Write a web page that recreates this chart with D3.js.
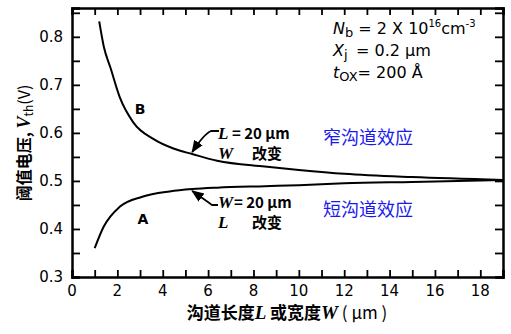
<!DOCTYPE html>
<html>
<head>
<meta charset="utf-8">
<script src="https://cdn.jsdelivr.net/npm/d3@7"></script>
<style>
  body { margin: 0; background: #fff; }
  svg { display: block; }
  text { font-family: "DejaVu Sans", sans-serif; }
  .cjk { font-family: "Noto Sans CJK SC", sans-serif; }
</style>
</head>
<body>
<svg id="chart" width="511" height="334"></svg>
<script>
// channel length / width in um, threshold voltage in V
const widthX = [1.2, 1.4, 1.7, 2.1, 2.7, 3.6, 4.5, 5.3, 6.4, 8.5, 10, 12, 15, 19];
const widthVth = [0.832, 0.78, 0.735, 0.675, 0.622, 0.587, 0.567, 0.556, 0.542, 0.53, 0.523, 0.515, 0.508, 0.502];
const lengthX = [1.0, 1.4, 2.1, 3.1, 4.3, 5.3, 6.4, 8.5, 10, 12, 15, 19];
const lengthVth = [0.36, 0.405, 0.446, 0.467, 0.478, 0.483, 0.486, 0.489, 0.491, 0.495, 0.498, 0.502];
const xTickLabels = [0, 2, 4, 6, 8, 10, 12, 14, 16, 18];
const yTickLabels = [0.3, 0.4, 0.5, 0.6, 0.7, 0.8];

const svg = d3.select("#chart");
const x = d3.scaleLinear().domain([0, 19]).range([72, 503]);
const y = d3.scaleLinear().domain([0.3, 0.86]).range([277, 8]);

// frame drawn as four axes with inward ticks, labels drawn separately
const xMinor = d3.range(0, 20);
const yMinor = d3.range(0.3, 0.86, 0.05);
svg.append("g").attr("transform", "translate(0,277)")
  .call(d3.axisBottom(x).tickValues(xMinor).tickSize(-7).tickFormat(""));
svg.append("g").attr("transform", "translate(0,8)")
  .call(d3.axisTop(x).tickValues(xMinor).tickSize(-7).tickFormat(""));
svg.append("g").attr("transform", "translate(72,0)")
  .call(d3.axisLeft(y).tickValues(yMinor).tickSize(-8).tickFormat(""));
svg.append("g").attr("transform", "translate(503,0)")
  .call(d3.axisRight(y).tickValues(yMinor).tickSize(-8).tickFormat(""));
svg.selectAll(".domain").attr("stroke", "#000").attr("stroke-width", 2.5);
svg.selectAll(".tick line").attr("stroke", "#000").attr("stroke-width", 1.8);

svg.append("g").selectAll("text").data(xTickLabels).join("text")
  .attr("x", d => x(d)).attr("y", 296)
  .attr("text-anchor", "middle").attr("font-size", 15)
  .text(d => d);

svg.append("g").selectAll("text").data(yTickLabels).join("text")
  .attr("x", 63).attr("y", d => y(d) + 5)
  .attr("text-anchor", "end").attr("font-size", 15)
  .text(d => d3.format(".1f")(d));

// curves
const curve = d3.line().x(d => x(d[0])).y(d => y(d[1])).curve(d3.curveMonotoneX);
svg.append("path")
  .datum(d3.zip(widthX, widthVth))
  .attr("fill", "none").attr("stroke", "#000").attr("stroke-width", 2)
  .attr("d", curve);
svg.append("path")
  .datum(d3.zip(lengthX, lengthVth))
  .attr("fill", "none").attr("stroke", "#000").attr("stroke-width", 2)
  .attr("d", curve);

svg.append("text").attr("x", 140).attr("y", 114).attr("text-anchor", "middle")
  .attr("font-size", 14).attr("font-weight", "bold").text("B");
svg.append("text").attr("x", 143).attr("y", 224).attr("text-anchor", "middle")
  .attr("font-size", 14).attr("font-weight", "bold").text("A");

// arrows to curves
svg.append("defs").append("marker")
  .attr("id", "head").attr("viewBox", "0 0 10 10").attr("refX", 9).attr("refY", 5)
  .attr("markerWidth", 7).attr("markerHeight", 7).attr("orient", "auto")
  .append("path").attr("d", "M0,1 L10,5 L0,9 Z").attr("fill", "#000");
svg.append("path")
  .attr("d", `M219,131 L211,131 Q204,134 ${x(5.3)},${y(0.556) - 2}`)
  .attr("fill", "none").attr("stroke", "#000").attr("stroke-width", 1.8)
  .attr("marker-end", "url(#head)");
svg.append("path")
  .attr("d", `M218,205 L212,205 Q205,200 ${x(5.3)},${y(0.483) + 2}`)
  .attr("fill", "none").attr("stroke", "#000").attr("stroke-width", 1.8)
  .attr("marker-end", "url(#head)");

// annotations
const ital = "Liberation Serif, serif";
function note(yp, sym, rest, rx) {
  const t = svg.append("text").attr("y", yp).attr("font-size", 15).attr("font-weight", "bold");
  t.append("tspan").attr("x", 218).attr("font-family", ital).attr("font-style", "italic").attr("font-size", 17).text(sym);
  t.append("tspan").attr("x", rx).attr("class", "cjk").text(rest);
}
note(139, "L", "= 20 μm", 232);
note(159, "W", "改变", 252);
note(208, "W", "= 20 μm", 234);
note(228, "L", "改变", 252);

svg.append("text").attr("class", "cjk").attr("x", 323).attr("y", 144)
  .attr("font-size", 18).attr("fill", "#1a1aee").text("窄沟道效应");
svg.append("text").attr("class", "cjk").attr("x", 323).attr("y", 216)
  .attr("font-size", 18).attr("fill", "#1a1aee").text("短沟道效应");

// parameters box
const p1 = svg.append("text").attr("x", 333).attr("y", 34).attr("font-size", 16);
p1.append("tspan").attr("font-style", "italic").text("N");
p1.append("tspan").attr("dy", 3).attr("font-size", 13).text("b");
p1.append("tspan").attr("dy", -3).text(" = 2 X 10");
p1.append("tspan").attr("dy", -7).attr("font-size", 10).text("16");
p1.append("tspan").attr("dy", 7).text("cm");
p1.append("tspan").attr("dy", -7).attr("font-size", 10).text("-3");

const p2 = svg.append("text").attr("x", 333).attr("y", 56).attr("font-size", 16);
p2.append("tspan").attr("font-style", "italic").text("X");
p2.append("tspan").attr("dy", 3).attr("font-size", 13).text("j");
p2.append("tspan").attr("dy", -3).attr("x", 356).text("= 0.2 μm");

const p3 = svg.append("text").attr("x", 333).attr("y", 78).attr("font-size", 16);
p3.append("tspan").attr("font-style", "italic").text("t");
p3.append("tspan").attr("dy", 3).attr("font-size", 13).text("OX");
p3.append("tspan").attr("dy", -3).text("= 200 Å");

// axis titles
const xt = svg.append("text").attr("x", 287).attr("y", 319).attr("text-anchor", "middle")
  .attr("font-size", 17).attr("font-weight", "bold").attr("class", "cjk");
xt.append("tspan").text("沟道长度");
xt.append("tspan").attr("font-family", ital).attr("font-style", "italic").attr("font-size", 19).text("L");
xt.append("tspan").text(" 或宽度");
xt.append("tspan").attr("font-family", ital).attr("font-style", "italic").attr("font-size", 19).text("W");
xt.append("tspan").attr("font-weight", "normal").text(" ( μm )");

const yt = svg.append("text").attr("transform", "translate(30,143) rotate(-90)")
  .attr("text-anchor", "middle").attr("font-size", 16).attr("font-weight", "bold").attr("class", "cjk");
yt.append("tspan").text("阈值电压, ");
yt.append("tspan").attr("font-family", ital).attr("font-style", "italic").attr("font-size", 18).text("V");
yt.append("tspan").attr("dy", 3).attr("font-size", 12).attr("font-weight", "normal").text("th");
yt.append("tspan").attr("dy", -3).attr("font-weight", "normal").text("(V)");
</script>
</body>
</html>
